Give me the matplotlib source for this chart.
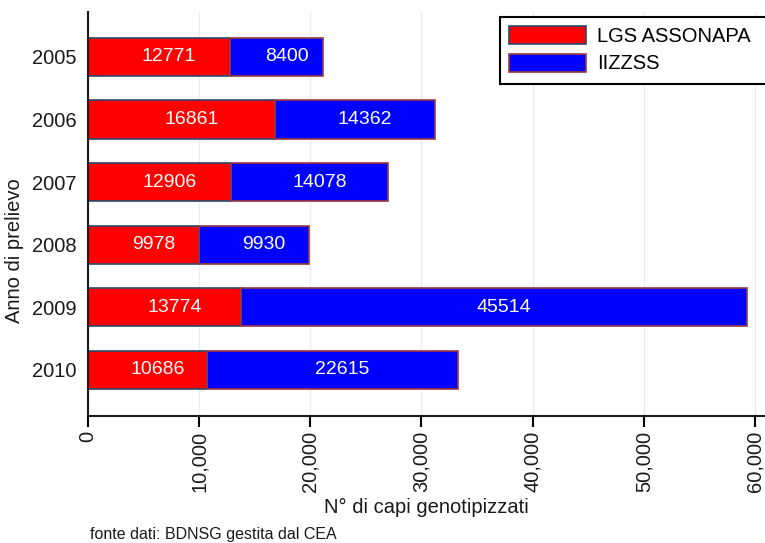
import matplotlib
matplotlib.use("Agg")
import matplotlib.pyplot as plt
from matplotlib.patches import Rectangle
from matplotlib.ticker import FuncFormatter

# data
anni = ["2005", "2006", "2007", "2008", "2009", "2010"]
lgs_assonapa = [12771, 16861, 12906, 9978, 13774, 10686]
iizzss = [8400, 14362, 14078, 9930, 45514, 22615]
xticks = [0, 10000, 20000, 30000, 40000, 50000, 60000]

plt.rcParams['font.family'] = ['Liberation Sans', 'DejaVu Sans']
fs = 14.5

fig = plt.figure(figsize=(7.65, 5.43), dpi=100)
ax = fig.add_axes([0.115, 0.234, 0.885, 0.744])

ypos = list(range(len(anni)))
h = 0.61
ax.barh(ypos, lgs_assonapa, height=h, color='#ff0000', edgecolor='#2a4a6a',
        linewidth=1.2, label='LGS ASSONAPA', zorder=2)
ax.barh(ypos, iizzss, left=lgs_assonapa, height=h, color='#0000ff',
        edgecolor='#9a3a40', linewidth=1.2, label='IIZZSS', zorder=2)

# value labels in the middle of each segment
for i in ypos:
    ax.annotate(str(lgs_assonapa[i]), (lgs_assonapa[i] / 2, i), xytext=(10, 0),
                textcoords='offset pixels', ha='center', va='center',
                color='white', fontsize=14, zorder=3)
    ax.annotate(str(iizzss[i]), (lgs_assonapa[i] + iizzss[i] / 2, i), xytext=(10, 0),
                textcoords='offset pixels', ha='center', va='center',
                color='white', fontsize=14, zorder=3)

ax.set_ylim(5.74, -0.72)
ax.set_xlim(0, 60900)
ax.set_yticks(ypos)
ax.set_yticklabels(anni, fontsize=fs, color='#1a1a1a')
ax.set_xticks(xticks)
ax.xaxis.set_major_formatter(FuncFormatter(lambda v, p: f"{int(v):,}"))
for lab in ax.get_xticklabels():
    lab.set_rotation(90)
    lab.set_fontsize(fs)
    lab.set_color('#1a1a1a')
ax.tick_params(axis='y', length=0, pad=8)
ax.tick_params(axis='x', length=8, width=1.5, pad=3, direction='out')

ax.grid(axis='x', color='#e6eef2', linewidth=1.0, zorder=0)
ax.set_axisbelow(True)
for s in ['top', 'right']:
    ax.spines[s].set_visible(False)
for s in ['left', 'bottom']:
    ax.spines[s].set_linewidth(1.5)
    ax.spines[s].set_color('#1a1a1a')

ax.set_xlabel("N° di capi genotipizzati", fontsize=fs, color='#1a1a1a', labelpad=4)
ax.set_ylabel("Anno di prelievo", fontsize=fs, color='#1a1a1a', labelpad=8)
ax.yaxis.set_label_coords(-0.095, 0.41)

# legend without its own frame; the box runs off the right edge as in the original
leg = ax.legend(loc='upper left', bbox_to_anchor=(0.6086, 0.9876), fontsize=fs,
                handlelength=3.8, handleheight=1.0, handletextpad=0.55,
                frameon=False, borderpad=0.45, labelspacing=0.38, borderaxespad=0)
leg.set_zorder(6)
box = Rectangle((500 / 765, 1 - 84 / 543), 0.4, 67 / 543, transform=fig.transFigure,
                facecolor='white', edgecolor='black', linewidth=1.5,
                clip_on=False, zorder=5)
ax.add_patch(box)

fig.text(0.118, 0.008, "fonte dati: BDNSG gestita dal CEA", fontsize=11.5, color='#1a1a1a')

fig.savefig("out.png", dpi=100)
